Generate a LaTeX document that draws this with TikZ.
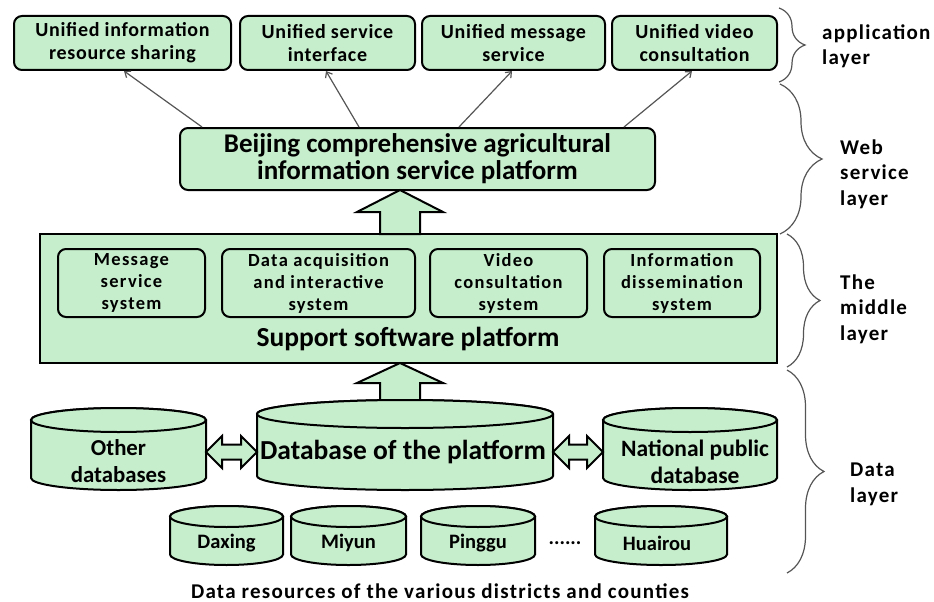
\documentclass[tikz,border=0pt]{standalone}
\usepackage{fontspec}
\setmainfont{Carlito}
\newfontfamily\spacedfont[LetterSpace=6]{Carlito}
\newfontfamily\spacedinner[LetterSpace=7]{Carlito}
\newfontfamily\spacedtop[LetterSpace=3.5]{Carlito}
\usetikzlibrary{arrows.meta,decorations.pathreplacing,calc}
\definecolor{boxgreen}{RGB}{198,237,204}
\definecolor{linegray}{RGB}{85,85,85}
\newcommand\mycyl[5]{% cx, rx, yt, yb, ry
  \path[cylbody] (#1-#2,#3) -- (#1-#2,#4) arc[start angle=180,end angle=0,x radius=#2,y radius=#5] -- (#1+#2,#3) arc[start angle=0,end angle=-180,x radius=#2,y radius=#5] -- cycle;
  \path[cylbody] (#1,#3) ellipse[x radius=#2,y radius=#5];}
\begin{document}
\begin{tikzpicture}[x=1pt,y=-1pt,
  rbox/.style={draw=black, line width=2pt, fill=boxgreen, rounded corners=8pt, align=center, inner sep=0pt},
  toptext/.style={font=\spacedtop\bfseries\fontsize{20}{23}\selectfont},
  innertext/.style={font=\spacedinner\bfseries\fontsize{18.5}{22}\selectfont},
  platbox/.style={draw=black, line width=2pt, fill=boxgreen, inner sep=0pt},
  cylbody/.style={draw=black, line width=2pt, fill=boxgreen},
  cyllabel/.style={align=center, inner sep=0pt},
  smalldb/.style={cyllabel, font=\bfseries\fontsize{20.5}{22}\selectfont},
  blockarrow/.style={draw=black, line width=2pt, fill=boxgreen, line join=miter},
  thinarrow/.style={draw=linegray, line width=1.2pt, -{Straight Barb[length=5pt,width=8pt]}},
  bracestyle/.style={draw=linegray, line width=1.2pt, decorate},
  layerlabel/.style={anchor=west, align=left, inner sep=0pt, font=\spacedfont\bfseries\fontsize{21}{25.5}\selectfont}
]
\useasboundingbox (0,0) rectangle (934,602);

% application layer
\node[rbox, toptext, minimum width=217, minimum height=54] (u1) at (122.5,43) {Unified information\\resource sharing};
\node[rbox, toptext, minimum width=175, minimum height=54] (u2) at (327.5,43) {Unified service\\interface};
\node[rbox, toptext, minimum width=183, minimum height=54] (u3) at (513.5,43) {Unified message\\service};
\node[rbox, toptext, minimum width=165, minimum height=54] (u4) at (694.5,43) {Unified video\\consultation};

% web service layer
\node[rbox, font=\bfseries\fontsize{27}{27}\selectfont, minimum width=475, minimum height=62] (bj) at (417.5,159) {Beijing comprehensive agricultural\\information service platform};

\draw[thinarrow] ($(bj.north west)+(23,0)$) -- ($(u1.south west)+(111,0)$);
\draw[thinarrow] ($(bj.north west)+(180,0)$) -- ($(u2.south west)+(87,0)$);
\draw[thinarrow] ($(bj.north west)+(280,0)$) -- ($(u3.south west)+(91,0)$);
\draw[thinarrow] ($(bj.north west)+(445,0)$) -- ($(u4.south west)+(81,0)$);

% middle layer
\node[platbox, minimum width=737, minimum height=129] (sp) at (408.5,298.5) {};
\node[inner sep=0pt, font=\bfseries\fontsize{27.5}{28}\selectfont] (splabel) at (408,339) {Support software platform};
\node[rbox, innertext, minimum width=147, minimum height=68] (ia) at (131.5,283) {Message\\service\\system};
\node[rbox, innertext, minimum width=193, minimum height=68] (ib) at (318.5,283) {Data acquisition\\and interactive\\system};
\node[rbox, innertext, minimum width=157, minimum height=68] (ic) at (508.5,283) {Video\\consultation\\system};
\node[rbox, innertext, minimum width=156, minimum height=68] (id) at (682,283) {Information\\dissemination\\system};

% block arrows up
\path[blockarrow] (380,234) -- (380,212) -- (357,212) -- (400,190) -- (443,212) -- (420,212) -- (420,234) -- cycle;
\path[blockarrow] (380,404) -- (380,383) -- (357,383) -- (400,363) -- (443,383) -- (420,383) -- (420,404) -- cycle;

% data layer cylinders
\mycyl{118.5}{87.5}{420}{478}{12}
\mycyl{405}{148}{414}{476}{14}
\mycyl{690}{87}{420}{478}{12}
\node[cyllabel, minimum width=175, minimum height=82, font=\bfseries\fontsize{22.8}{27}\selectfont] (oth) at (118.5,461.5) {Other\\databases};
\node[cyllabel, minimum width=296, minimum height=90, font=\bfseries\fontsize{27.5}{28}\selectfont] (db) at (403,452) {Database of the platform};
\node[cyllabel, minimum width=174, minimum height=82, font=\bfseries\fontsize{23.5}{27}\selectfont] (nat) at (695,461.5) {National public\\database};

% double arrows
\path[blockarrow] (206,452) -- (222,436) -- (222,444.5) -- (241,444.5) -- (241,436) -- (257,452) -- (241,468) -- (241,459.5) -- (222,459.5) -- (222,468) -- cycle;
\path[blockarrow] (553,452) -- (569,436) -- (569,444.5) -- (587,444.5) -- (587,436) -- (603,452) -- (587,468) -- (587,459.5) -- (569,459.5) -- (569,468) -- cycle;

% district cylinders
\mycyl{226.5}{56.5}{516.5}{554.5}{10.5}
\mycyl{348.5}{57.5}{516.5}{554.5}{10.5}
\mycyl{478}{57}{516.5}{554.5}{10.5}
\mycyl{661}{66}{516.5}{554.5}{10.5}
\node[smalldb] (dx) at (226.5,543) {Daxing};
\node[smalldb] (my) at (348.5,543) {Miyun};
\node[smalldb] (pg) at (478,543) {Pinggu};
\node[smalldb] (dots) at (565,543) {......};
\node[smalldb] (hr) at (657,543) {Huairou};

\node[inner sep=0pt, font=\spacedfont\bfseries\fontsize{21}{22}\selectfont] (cap) at (440,591) {Data resources of the various districts and counties};

% braces
\draw[bracestyle, decoration={brace, amplitude=26pt}] (779,8) -- (779,82);
\draw[bracestyle, decoration={brace, amplitude=42pt}] (780,84) -- (780,234);
\draw[bracestyle, decoration={brace, amplitude=33pt}] (787,234) -- (787,367);
\draw[bracestyle, decoration={brace, amplitude=37pt}] (787,370) -- (787,573);

\node[layerlabel] (l1) at (822,46.5) {application\\layer};
\node[layerlabel] (l2) at (840,174) {Web\\service\\layer};
\node[layerlabel] (l3) at (840,309) {The\\middle\\layer};
\node[layerlabel] (l4) at (850,484.5) {Data\\layer};
\end{tikzpicture}
\end{document}
